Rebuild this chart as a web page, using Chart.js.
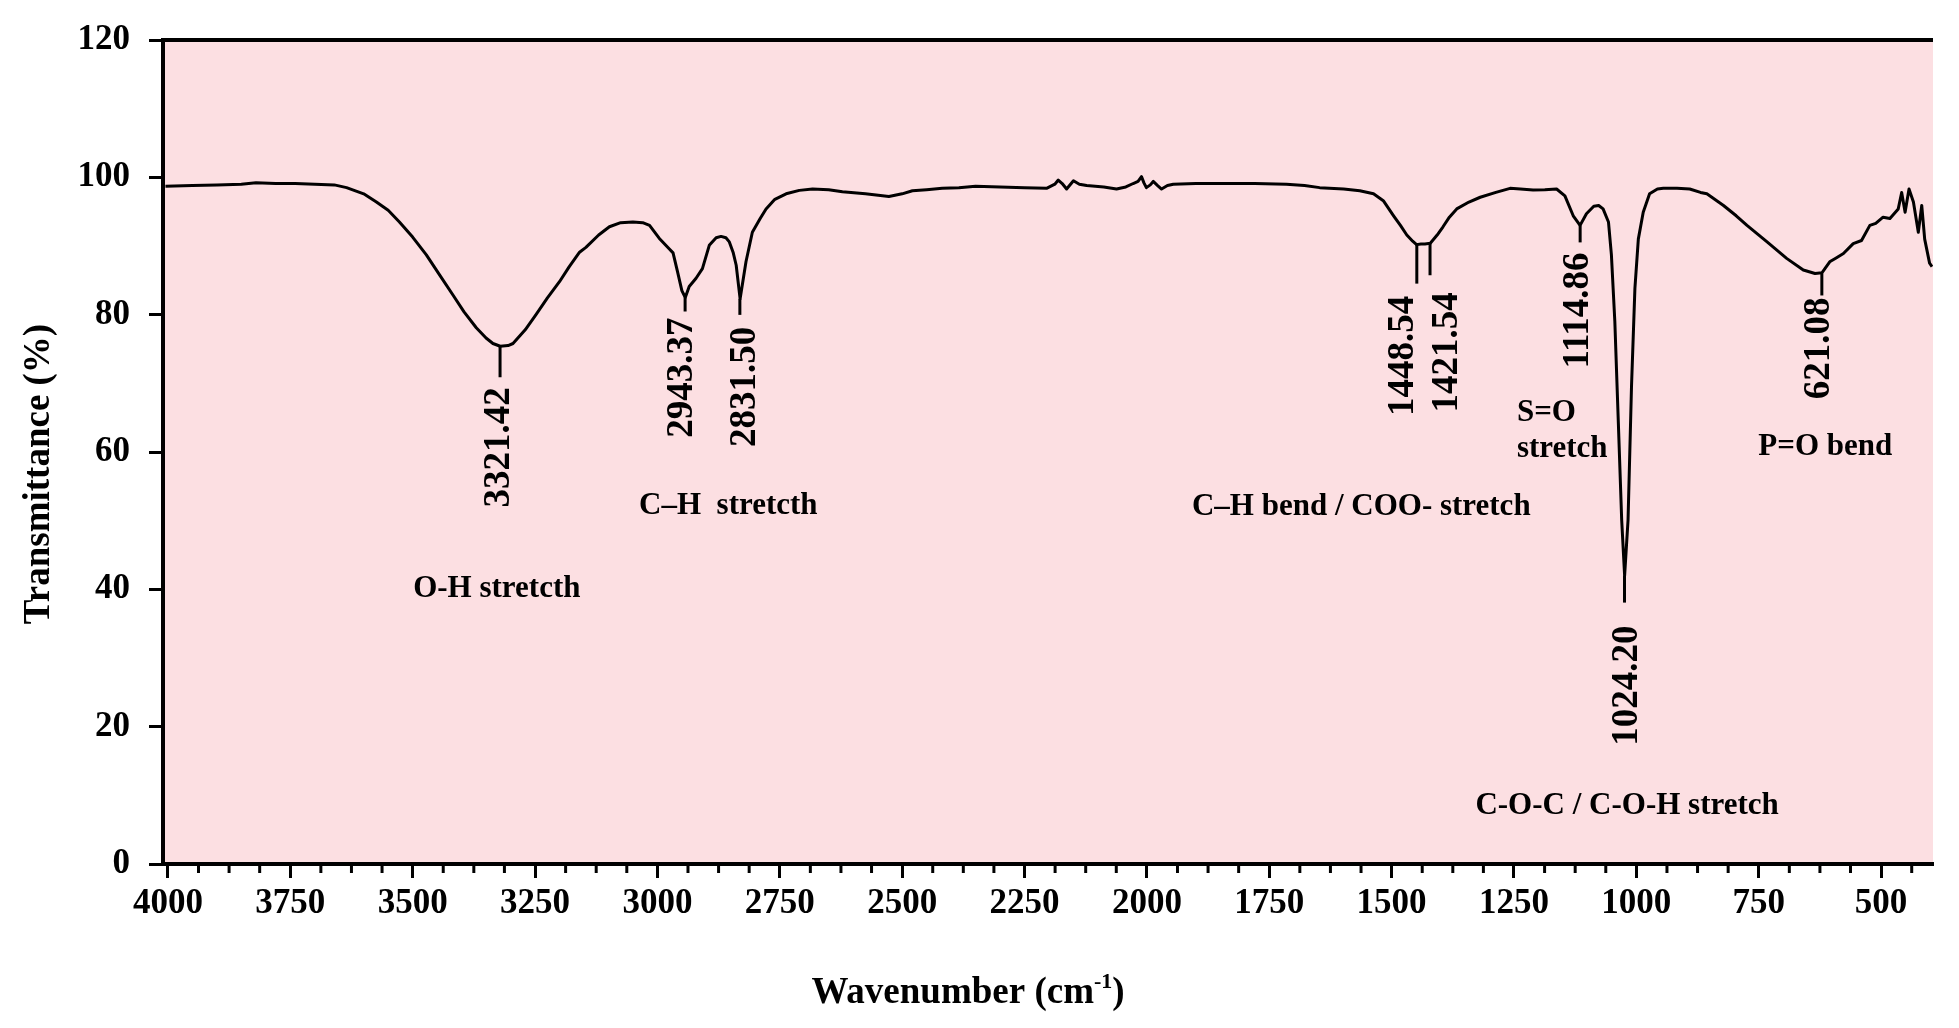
<!DOCTYPE html>
<html>
<head>
<meta charset="utf-8">
<title>FTIR spectrum</title>
<script src="https://cdn.jsdelivr.net/npm/chart.js@4.4.1/dist/chart.umd.min.js"></script>
<style>
html, body { margin: 0; padding: 0; background: #fff; }
canvas { display: block; }
</style>
</head>
<body>
<canvas id="ftirChart" width="1959" height="1028"></canvas>
<script>

// spectrum: wavenumber (cm-1) and transmittance (%)
const wavenumbers = [
4005, 3950, 3900, 3850, 3820, 3780, 3740, 3700, 3660, 3635,
3600, 3574, 3550, 3527, 3500, 3472, 3445, 3418, 3395, 3370,
3350, 3336, 3321, 3305, 3295, 3270, 3248, 3225, 3200, 3180,
3159, 3146, 3120, 3098, 3075, 3050, 3030, 3016, 2996, 2976,
2968, 2959, 2950, 2943, 2935, 2921, 2908, 2894, 2880, 2870,
2860, 2853, 2845, 2839, 2831, 2825, 2819, 2806, 2790, 2778,
2760, 2737, 2710, 2683, 2650, 2622, 2575, 2527, 2500, 2479,
2450, 2418, 2384, 2350, 2300, 2250, 2205, 2188, 2181, 2173,
2164, 2150, 2138, 2123, 2088, 2062, 2043, 2028, 2018, 2011,
2006, 2001, 1993, 1987, 1978, 1970, 1958, 1946, 1900, 1838,
1780, 1715, 1678, 1647, 1598, 1565, 1537, 1517, 1496, 1482,
1469, 1457, 1449, 1440, 1432, 1421, 1407, 1395, 1382, 1367,
1342, 1319, 1287, 1258, 1237, 1211, 1187, 1163, 1146, 1129,
1115, 1102, 1087, 1077, 1068, 1057, 1051, 1044, 1037, 1030,
1024, 1017, 1010, 1003, 996, 986, 973, 957, 945, 917,
891, 869, 856, 822, 796, 774, 733, 693, 659, 635,
621, 605, 591, 577, 557, 540, 523, 511, 496, 482,
465, 458, 451, 443, 434, 424, 417, 411, 401, 396
];

const transmittance = [
98.7, 98.8, 98.9, 99.0, 99.2, 99.1, 99.1, 99.0, 98.9, 98.5,
97.6, 96.4, 95.2, 93.5, 91.3, 88.7, 85.8, 82.9, 80.4, 78.1,
76.6, 75.8, 75.4, 75.5, 75.8, 77.8, 80.0, 82.4, 84.8, 87.0,
89.1, 89.8, 91.6, 92.8, 93.4, 93.5, 93.4, 93.0, 91.1, 89.6,
89.0, 86.3, 83.5, 82.5, 84.1, 85.3, 86.7, 90.1, 91.2, 91.4,
91.2, 90.6, 89.0, 87.2, 82.3, 85.0, 87.7, 92.0, 94.0, 95.4,
96.8, 97.6, 98.1, 98.3, 98.2, 97.9, 97.6, 97.2, 97.6, 98.05,
98.2, 98.4, 98.5, 98.7, 98.6, 98.5, 98.4, 99.0, 99.6, 99.1,
98.3, 99.5, 99.0, 98.8, 98.6, 98.3, 98.6, 99.1, 99.4, 100.1,
99.2, 98.5, 98.9, 99.4, 98.8, 98.3, 98.8, 99.0, 99.1, 99.1,
99.1, 99.0, 98.8, 98.5, 98.3, 98.05, 97.6, 96.6, 94.4, 93.0,
91.6, 90.7, 90.2, 90.3, 90.3, 90.4, 91.6, 92.8, 94.2, 95.4,
96.4, 97.1, 97.8, 98.4, 98.3, 98.15, 98.2, 98.3, 97.3, 94.4,
93.0, 94.7, 95.8, 95.9, 95.4, 93.5, 88.7, 79.0, 64.6, 50.1,
42.0, 50.1, 69.4, 83.8, 91.0, 94.9, 97.6, 98.3, 98.4, 98.4,
98.3, 97.8, 97.6, 95.9, 94.4, 93.0, 90.6, 88.2, 86.5, 86.0,
86.1, 87.7, 88.3, 88.9, 90.35, 90.8, 93.0, 93.3, 94.2, 94.0,
95.4, 97.8, 94.9, 98.3, 96.4, 92.0, 95.9, 91.0, 87.5, 87.0
];

// labelled absorption minima
const peakWavenumbers = [3321.42, 2943.37, 2831.50, 1448.54, 1421.54, 1114.86, 1024.20, 621.08];
const peakTransmittance = [75.4, 82.5, 82.3, 90.2, 90.4, 93.0, 42.0, 86.0];

// band assignments written on the plot
const bandNames = ["O-H stretcth", "C–H  stretcth", "C–H bend / COO- stretch", "S=O", "stretch", "P=O bend", "C-O-C / C-O-H stretch"];

// tick labels
const xTicks = [4000, 3750, 3500, 3250, 3000, 2750, 2500, 2250, 2000, 1750, 1500, 1250, 1000, 750, 500];
const yTicks = [0, 20, 40, 60, 80, 100, 120];


// layout of the annotations (pixels / data anchor points)
const peakLabelLayout = [
{ line: 31, gap: 10, dx: -1 },
{ line: 14, gap: 6, dx: -3 },
{ line: 16, gap: 12, dx: 6 },
{ line: 39, gap: 12, dx: -13 },
{ line: 32, gap: 17, dx: 17 },
{ line: 17, gap: 10, dx: -2 },
{ line: 27, gap: 23, dx: 3 },
{ line: 22, gap: 2, dx: -2 }
];

const bandLabelLayout = [
{ w: 3328, t: 40.0, align: "center" },
{ w: 2855, t: 52.1, align: "center" },
{ w: 1562, t: 52.0, align: "center" },
{ w: 1244, t: 65.7, align: "left" },
{ w: 1244, t: 60.4, align: "left" },
{ w: 614, t: 60.8, align: "center" },
{ w: 1019, t: 8.5, align: "center" }
];

const serif = "'Liberation Serif', 'Times New Roman', serif";
const plotPink = "#fcdfe2";


const spectrumDecor = {
id: "spectrumDecor",

beforeDraw(chart) {
const ctx = chart.ctx;
const a = chart.chartArea;
ctx.save();
ctx.fillStyle = "#ffffff";
ctx.fillRect(0, 0, chart.width, chart.height);
ctx.fillStyle = plotPink;
ctx.fillRect(a.left, a.top, a.right - a.left, a.bottom - a.top);
ctx.restore();
},

afterDraw(chart) {
drawFrame(chart);
drawMinorTicks(chart);
drawPeakMarks(chart);
drawBandLabels(chart);
drawAxisTitles(chart);
}
};


function drawFrame(chart){
const ctx = chart.ctx;
const a = chart.chartArea;
ctx.save();
ctx.strokeStyle = "#000";
ctx.lineWidth = 4;
ctx.beginPath();
ctx.moveTo(a.left - 2, a.top);
ctx.lineTo(a.right, a.top);
ctx.stroke();
ctx.restore();
}


function drawMinorTicks(chart){
const ctx = chart.ctx;
const xs = chart.scales.x;
const a = chart.chartArea;
ctx.save();
ctx.strokeStyle = "#000";
ctx.lineWidth = 3;
for (let v = 4000 - 62.5; v > xs.min; v -= 62.5) {
if (v % 250 === 0) continue;
const px = xs.getPixelForValue(v);
ctx.beginPath();
ctx.moveTo(px, a.bottom);
ctx.lineTo(px, a.bottom + 9);
ctx.stroke();
}
ctx.restore();
}


function drawPeakMarks(chart){
const ctx = chart.ctx;
const xs = chart.scales.x;
const ys = chart.scales.y;
ctx.save();
ctx.strokeStyle = "#000";
ctx.fillStyle = "#000";
ctx.lineWidth = 3;
ctx.font = "bold 37px " + serif;
ctx.textAlign = "right";
ctx.textBaseline = "middle";

peakWavenumbers.forEach(function (w, i) {
const lay = peakLabelLayout[i];
const px = xs.getPixelForValue(w);
const py = ys.getPixelForValue(peakTransmittance[i]);
ctx.beginPath();
ctx.moveTo(px, py);
ctx.lineTo(px, py + lay.line);
ctx.stroke();

ctx.save();
ctx.translate(px + lay.dx, py + lay.line + lay.gap);
ctx.rotate(-Math.PI / 2);
ctx.fillText(w.toFixed(2), 0, 0);
ctx.restore();
});
ctx.restore();
}


function drawBandLabels(chart){
const ctx = chart.ctx;
const xs = chart.scales.x;
const ys = chart.scales.y;
ctx.save();
ctx.fillStyle = "#000";
ctx.font = "bold 31px " + serif;
ctx.textBaseline = "middle";
bandNames.forEach(function (name, i) {
const lay = bandLabelLayout[i];
ctx.textAlign = lay.align;
ctx.fillText(name, xs.getPixelForValue(lay.w), ys.getPixelForValue(lay.t));
});
ctx.restore();
}


function drawAxisTitles(chart){
const ctx = chart.ctx;
ctx.save();
ctx.fillStyle = "#000";

// y title
ctx.font = "bold 37px " + serif;
ctx.textAlign = "center";
ctx.textBaseline = "middle";
ctx.save();
ctx.translate(39, 474);
ctx.rotate(-Math.PI / 2);
ctx.fillText("Transmittance (%)", 0, 0);
ctx.restore();

// x title with superscript
const main = "Wavenumber (cm";
const sup = "-1";
const close = ")";
ctx.textAlign = "left";
ctx.textBaseline = "alphabetic";
ctx.font = "bold 37px " + serif;
const w1 = ctx.measureText(main).width;
const w3 = ctx.measureText(close).width;
ctx.font = "bold 22px " + serif;
const w2 = ctx.measureText(sup).width;
let x0 = 968 - (w1 + w2 + w3) / 2;
const base = 1003;
ctx.font = "bold 37px " + serif;
ctx.fillText(main, x0, base);
ctx.font = "bold 22px " + serif;
ctx.fillText(sup, x0 + w1, base - 15);
ctx.font = "bold 37px " + serif;
ctx.fillText(close, x0 + w1 + w2, base);
ctx.restore();
}


function createSpectrumChart(){

const points = wavenumbers.map(function (w, i) {
return { x: w, y: transmittance[i] };
});

new Chart(document.getElementById("ftirChart"), {

type: "line",

data: {
datasets: [{
label: "Transmittance",
data: points,
borderColor: "#000",
borderWidth: 3,
borderJoinStyle: "round",
pointRadius: 0,
tension: 0,
fill: false
}]
},

options: {
responsive: false,
animation: false,
devicePixelRatio: 1,
layout: {
padding: { top: 33, right: 26, left: 0, bottom: 0 }
},
plugins: {
legend: { display: false },
tooltip: { enabled: false }
},
scales: {
x: {
type: "linear",
position: "bottom",
reverse: true,
min: 394,
max: 4010,
afterBuildTicks: function (scale) {
scale.ticks = xTicks.map(function (v) { return { value: v }; });
},
afterFit: function (scale) {
scale.height = 164;
},
grid: {
drawOnChartArea: false,
drawTicks: true,
tickLength: 14,
tickWidth: 3,
tickColor: "#000"
},
border: { display: true, color: "#000", width: 4 },
ticks: {
color: "#000",
font: { family: serif, size: 35, weight: "bold" },
padding: 5,
maxRotation: 0,
autoSkip: false,
callback: function (v) { return String(v); }
}
},
y: {
min: 0,
max: 120,
afterBuildTicks: function (scale) {
scale.ticks = yTicks.map(function (v) { return { value: v }; });
},
afterFit: function (scale) {
scale.width = 163;
},
grid: {
drawOnChartArea: false,
drawTicks: true,
tickLength: 14,
tickWidth: 3,
tickColor: "#000"
},
border: { display: true, color: "#000", width: 4 },
ticks: {
color: "#000",
font: { family: serif, size: 35, weight: "bold" },
padding: 19
}
}
}
},

plugins: [spectrumDecor]
});

}

document.addEventListener("DOMContentLoaded", function () {
createSpectrumChart();
});

</script>
</body>
</html>
